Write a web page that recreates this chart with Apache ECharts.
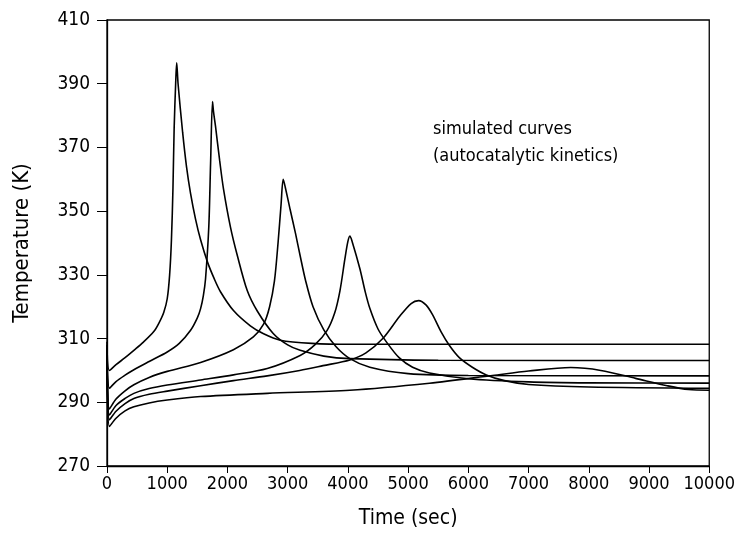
<!DOCTYPE html>
<html>
<head>
<meta charset="utf-8">
<script src="https://cdn.jsdelivr.net/npm/echarts@6/dist/echarts.min.js"></script>
<style>
  html, body { margin: 0; padding: 0; background: #fff; }
  #main { width: 738px; height: 534px; }
</style>
</head>
<body>
<div id="main"></div>
<script>
// simulated temperature curves, [time (sec), temperature (K)]
var curve1 = [[0,309],[40,300],[150,301.8],[300,304],[446,306.3],[600,308.8],[777,312.2],[860,314.8],[942,318.2],[1000,322.5],[1040,330],[1070,341],[1095,357],[1115,376],[1140,390],[1157,396.6],[1180,390],[1256,374.7],[1320,364],[1388,355.5],[1470,347.5],[1554,341],[1669,334],[1780,328.8],[1884,324.7],[2100,318.8],[2380,314],[2600,311.5],[2876,309.5],[3400,308.5],[4033,308.2],[10000,308.2]];
var curve2 = [[0,308],[40,294.4],[150,296.5],[300,298.5],[446,300.2],[700,302.8],[1000,305.8],[1200,308.5],[1388,312.6],[1500,316.5],[1554,319.4],[1600,323.5],[1636,328.7],[1690,345],[1720,365],[1752,384.4],[1770,381],[1802,376.6],[1870,366],[1934,357],[2050,345],[2165,336],[2330,325],[2500,318.5],[2760,311.6],[3000,308],[3207,306.3],[3600,304.5],[4033,303.7],[5500,303.2],[10000,303.1]];
var curve3 = [[0,307],[40,287.9],[150,291],[300,293.6],[446,295.5],[700,297.8],[1000,299.7],[1554,302.5],[2099,306.5],[2430,310.5],[2600,314.5],[2700,320],[2780,328],[2840,340],[2890,352],[2926,360],[2960,357.5],[3041,350.5],[3130,343],[3207,336],[3300,328],[3421,320],[3600,312.7],[3800,307.5],[4033,303.7],[4364,301],[5000,299],[6000,298.4],[10000,298.3]];
var curve4 = [[0,306],[40,286],[150,289],[300,291.2],[446,292.8],[700,294.3],[1000,295.4],[1554,297],[2100,298.6],[2661,300.6],[3207,304.7],[3450,308],[3653,312.5],[3780,318],[3868,325],[3950,335],[4000,340.5],[4033,342.2],[4070,340.5],[4198,332],[4290,324.5],[4364,319.5],[4500,313],[4645,308.8],[4850,304],[5074,301],[5355,299.2],[6000,297.4],[7000,296.4],[8000,296.1],[10000,296]];
var curve5 = [[0,306],[40,284.5],[150,287.2],[300,289.6],[446,291.2],[700,292.5],[1000,293.5],[1554,295.2],[2100,296.8],[2661,298.3],[3200,300],[3587,301.5],[4033,303.3],[4300,305.5],[4579,310],[4860,317],[5050,321],[5174,321.9],[5300,320.5],[5405,317.5],[5550,312],[5686,307.8],[5850,304],[6066,301],[6298,298.6],[6600,296.8],[7000,295.6],[8000,294.8],[10000,294.4]];
var curve6 = [[0,305],[40,282.4],[150,285],[300,287.3],[446,288.6],[700,289.8],[1000,290.7],[1554,291.8],[2661,292.8],[4033,293.8],[5355,296],[6400,298.4],[7000,299.8],[7700,300.9],[8200,300],[8777,297.5],[9300,295.2],[9653,294],[10000,293.8]];

var curves = [curve1, curve2, curve3, curve4, curve5, curve6];
var noteLines = ['simulated curves', '(autocatalytic kinetics)'];

var font = "'DejaVu Sans Condensed', 'Liberation Sans Narrow', sans-serif";

var chart = echarts.init(document.getElementById('main'));
chart.setOption({
    animation: false,
    backgroundColor: '#fff',
    grid: {
        left: 107, right: 28, top: 20, bottom: 66,
        show: true, borderColor: '#000', borderWidth: 1.3
    },
    xAxis: {
        type: 'value',
        min: 0, max: 10000, interval: 1000,
        name: 'Time (sec)',
        nameLocation: 'middle',
        nameGap: 42,
        nameTextStyle: { fontFamily: font, fontSize: 21, color: '#000' },
        axisLine: { lineStyle: { color: '#000', width: 1.3 } },
        axisTick: { inside: false, length: 7, lineStyle: { color: '#000' } },
        axisLabel: {
            fontFamily: font, fontSize: 18, color: '#000', margin: 9,
            formatter: function (v) { return String(v); }
        },
        splitLine: { show: false }
    },
    yAxis: {
        type: 'value',
        min: 270, max: 410, interval: 20,
        name: 'Temperature (K)',
        nameLocation: 'middle',
        nameGap: 74,
        nameTextStyle: { fontFamily: font, fontSize: 22, color: '#000' },
        axisLine: { show: true, lineStyle: { color: '#000', width: 1.3 } },
        axisTick: { show: true, length: 10, lineStyle: { color: '#000' } },
        axisLabel: { fontFamily: font, fontSize: 19, color: '#000', margin: 17 },
        splitLine: { show: false }
    },
    graphic: [{
        type: 'text',
        left: 433,
        top: 116,
        style: {
            text: noteLines.join('\n'),
            fontFamily: font,
            fontSize: 18,
            lineHeight: 27,
            fill: '#000'
        }
    }],
    series: curves.map(function (c) {
        return {
            type: 'line',
            data: c,
            showSymbol: false,
            smooth: 0.3,
            lineStyle: { color: '#000', width: 1.6 }
        };
    })
});
</script>
</body>
</html>
